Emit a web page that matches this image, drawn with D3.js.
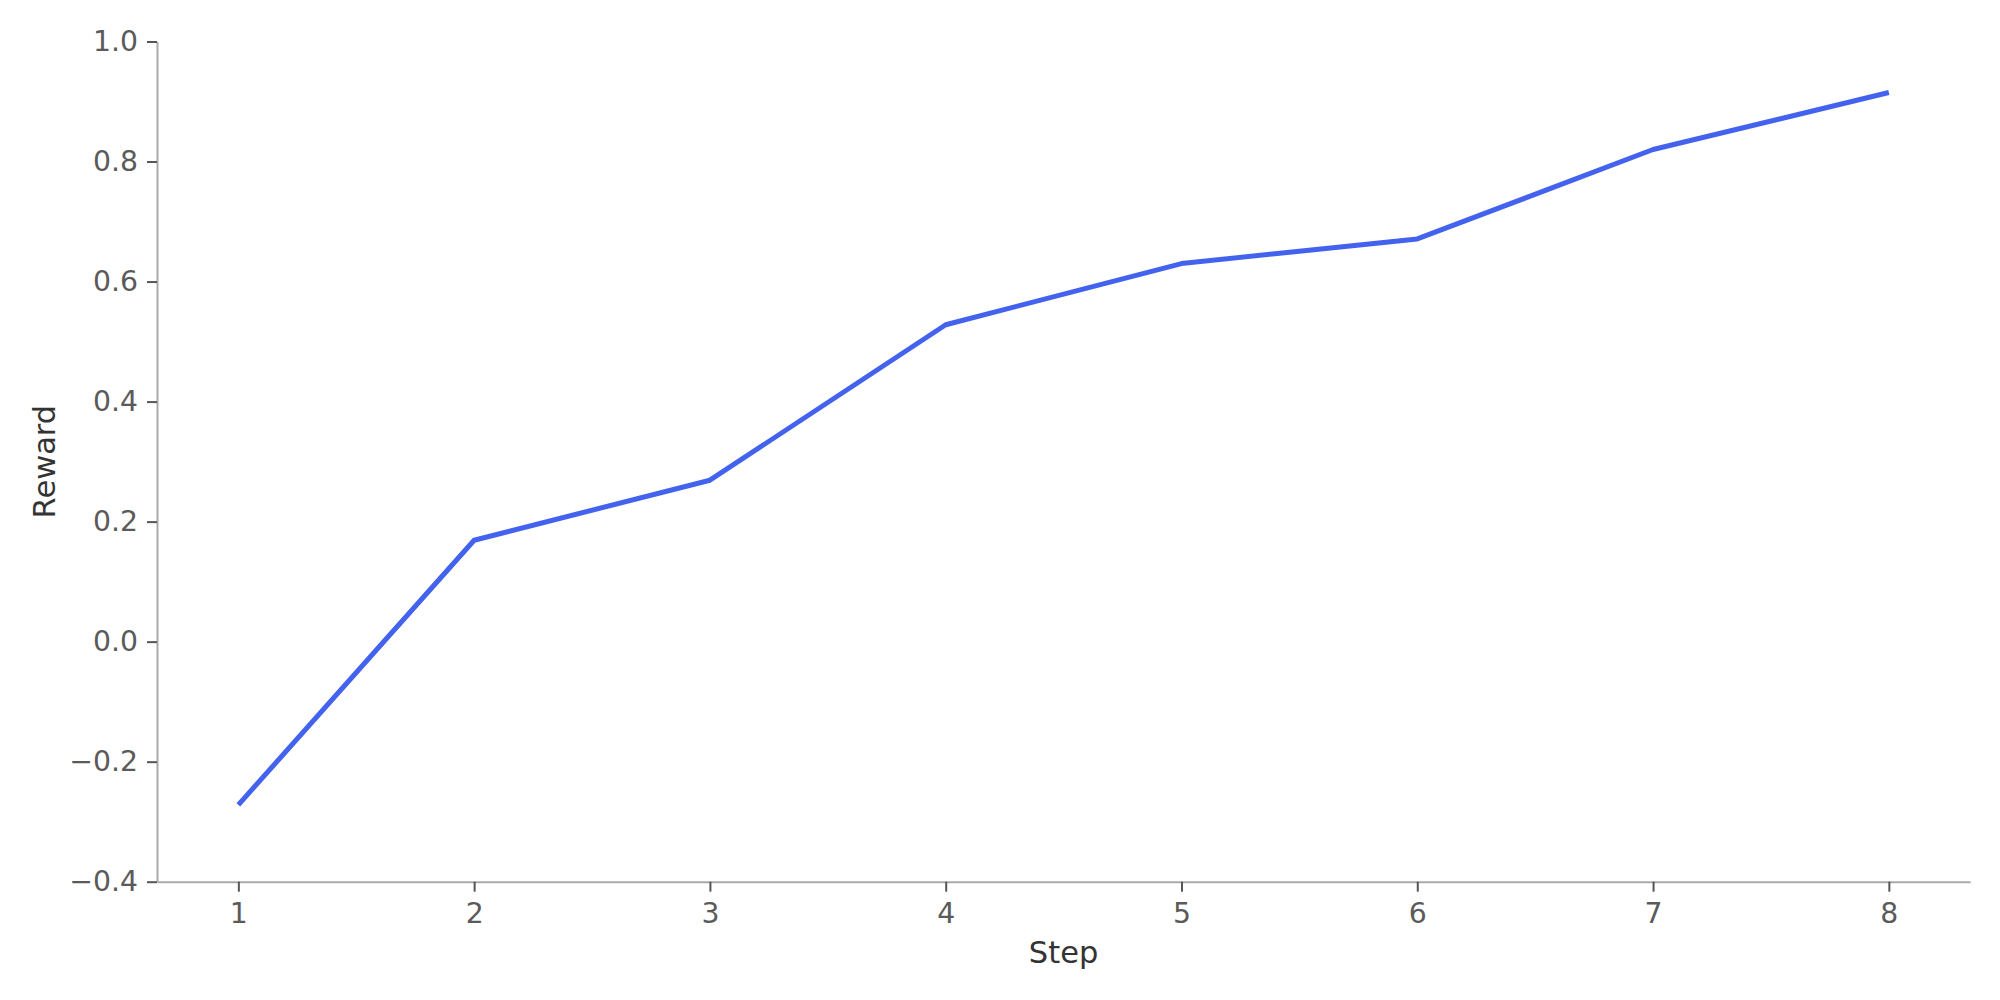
<!DOCTYPE html>
<html>
<head>
<meta charset="utf-8">
<script src="https://cdn.jsdelivr.net/npm/d3@7"></script>
<style>
  html, body { margin: 0; padding: 0; background: #fff; }
  svg { display: block; font-family: "DejaVu Sans", sans-serif; }
</style>
</head>
<body>
<svg id="chart" width="2000" height="1000"></svg>
<script>
const steps = [1, 2, 3, 4, 5, 6, 7, 8];
const rewards = [-0.272, 0.169, 0.269, 0.528, 0.630, 0.671, 0.820, 0.915];
const yTicks = [-0.4, -0.2, 0.0, 0.2, 0.4, 0.6, 0.8, 1.0];
const xLabel = "Step";
const yLabel = "Reward";

const svg = d3.select("#chart");
const mLeft = 157, mRight = 1970.2, mTop = 41.5, mBottom = 881.7;

const x = d3.scaleLinear().domain([0.655, 8.345]).range([mLeft, mRight]);
const y = d3.scaleLinear().domain([-0.4, 1.0]).range([mBottom, mTop]);

const fmt = v => (v < -1e-9 ? "\u2212" : "") + Math.abs(v).toFixed(1);

// X axis
const gx = svg.append("g").attr("transform", `translate(0,${mBottom})`)
  .call(d3.axisBottom(x).tickValues(steps).tickFormat(d3.format("d")).tickSize(10).tickPadding(11).tickSizeOuter(0));
gx.select(".domain").attr("stroke", "#aaaaaa").attr("stroke-width", 2);
gx.selectAll(".tick line").attr("stroke", "#555555").attr("stroke-width", 2);
gx.selectAll(".tick text").attr("fill", "#5a5a5a").attr("font-size", 28.3).attr("font-family", "DejaVu Sans");

// Y axis
const gy = svg.append("g").attr("transform", `translate(${mLeft},0)`)
  .call(d3.axisLeft(y).tickValues(yTicks).tickFormat(fmt).tickSize(10).tickPadding(9).tickSizeOuter(0));
gy.select(".domain").attr("stroke", "#aaaaaa").attr("stroke-width", 2);
gy.selectAll(".tick line").attr("stroke", "#555555").attr("stroke-width", 2);
gy.selectAll(".tick text").attr("fill", "#5a5a5a").attr("font-size", 28.3).attr("font-family", "DejaVu Sans");

// Axis labels
svg.append("text")
  .attr("x", (mLeft + mRight) / 2).attr("y", 963)
  .attr("text-anchor", "middle").attr("fill", "#333333")
  .attr("font-size", 30.5).text(xLabel);

svg.append("text")
  .attr("transform", `translate(55,${(mTop + mBottom) / 2}) rotate(-90)`)
  .attr("text-anchor", "middle").attr("fill", "#333333")
  .attr("font-size", 30.5).text(yLabel);

// Line
const data = steps.map((s, i) => ({ s, r: rewards[i] }));
svg.append("path")
  .datum(data)
  .attr("fill", "none")
  .attr("stroke", "#4363ee")
  .attr("stroke-width", 5)
  .attr("stroke-linejoin", "round")
  .attr("stroke-linecap", "butt")
  .attr("d", d3.line().x(d => x(d.s)).y(d => y(d.r)));
</script>
</body>
</html>
